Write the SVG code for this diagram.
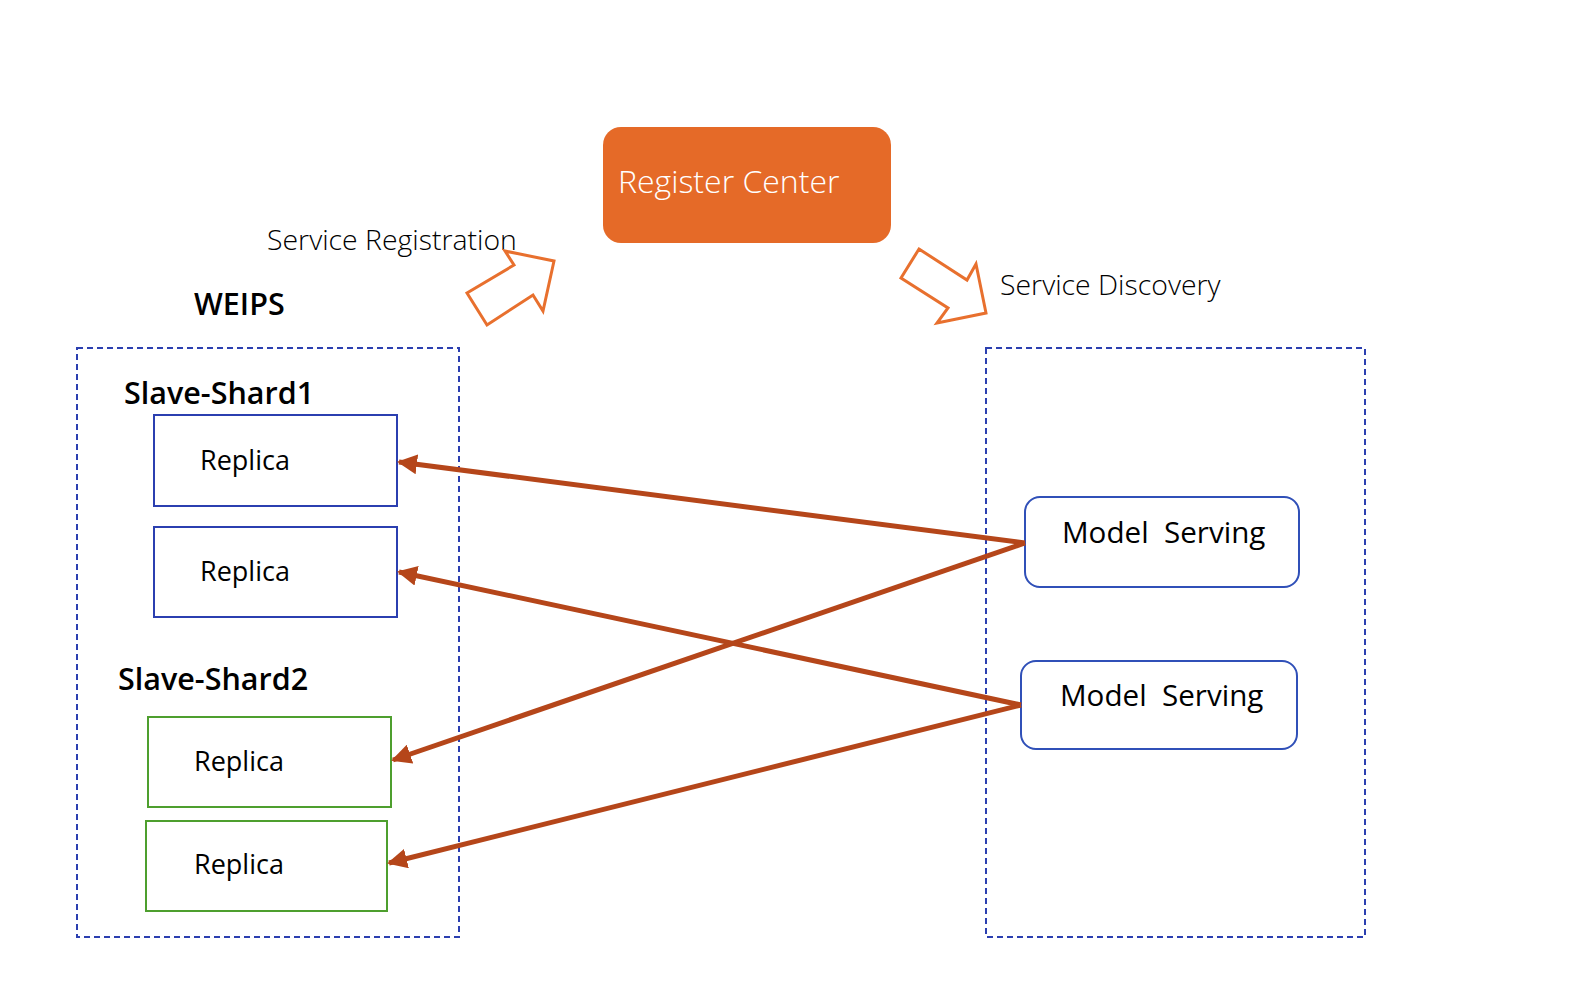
<svg xmlns="http://www.w3.org/2000/svg" width="1570" height="998" viewBox="0 0 1570 998">
<defs>
<style>
.t{font-family:"Open Sans","Noto Sans",sans-serif;fill:#000}
.lt{font-weight:300;font-size:28.4px}
.bd{font-weight:600;font-size:30.5px}
.rep{font-size:27px}
.ms-t{font-size:29.6px;font-weight:500}
.dash{fill:none;stroke:#2B3FB0;stroke-width:2;stroke-dasharray:6 4}
.blue{fill:#fff;stroke:#2B3FB0;stroke-width:2}
.green{fill:#fff;stroke:#4E9F2E;stroke-width:2}
.ms{fill:#fff;stroke:#3050B8;stroke-width:2}
.blk{fill:#fff;stroke:#E8702E;stroke-width:3;stroke-linejoin:miter}
.con{stroke:#B5461A;stroke-width:5;fill:none}
</style>
<marker id="ah" viewBox="0 0 10 10" refX="9" refY="5" markerWidth="4" markerHeight="4" orient="auto" markerUnits="strokeWidth">
<path d="M0,0 L10,5 L0,10 Z" fill="#B5461A"/>
</marker>
</defs>
<rect width="1570" height="998" fill="#fff"/>

<g id="register-center">
<rect x="603" y="127" width="288" height="116" rx="18" fill="#E56A28"/>
<text x="618" y="193" class="t" style="font-size:32px;font-weight:300;fill:#fff">Register Center</text>
</g>

<g id="service-registration">
<text x="267" y="250" class="t lt">Service Registration</text>
<polygon class="blk" points="505,251 554,261 543,311 533,295 487,325 467,293 514,265"/>
</g>

<g id="service-discovery">
<text x="1000" y="295" class="t lt">Service Discovery</text>
<polygon class="blk" points="919,249 967,280 976,264 986,313 937,323 948,308 901,278"/>
</g>

<g id="weips">
<text x="194" y="315" class="t bd">WEIPS</text>
<rect x="77" y="348" width="382" height="589" class="dash"/>
</g>

<g id="serving-cluster">
<rect x="986" y="348" width="379" height="589" class="dash"/>
</g>

<g id="slave-shard1">
<text x="124" y="404" class="t bd">Slave-Shard1</text>
</g>
<g id="replica1">
<rect x="154" y="415" width="243" height="91" class="blue"/>
<text x="200" y="470" class="t rep">Replica</text>
</g>
<g id="replica2">
<rect x="154" y="527" width="243" height="90" class="blue"/>
<text x="200" y="581" class="t rep">Replica</text>
</g>

<g id="slave-shard2">
<text x="118" y="690" class="t bd">Slave-Shard2</text>
</g>
<g id="replica3">
<rect x="148" y="717" width="243" height="90" class="green"/>
<text x="194" y="771" class="t rep">Replica</text>
</g>
<g id="replica4">
<rect x="146" y="821" width="241" height="90" class="green"/>
<text x="194" y="874" class="t rep">Replica</text>
</g>

<g id="model-serving1">
<rect x="1025" y="497" width="274" height="90" rx="15" class="ms"/>
<text x="1062" y="543" class="t ms-t" xml:space="preserve">Model  Serving</text>
</g>
<g id="model-serving2">
<rect x="1021" y="661" width="276" height="88" rx="15" class="ms"/>
<text x="1060" y="706" class="t ms-t" xml:space="preserve">Model  Serving</text>
</g>

<g id="connectors">
<line x1="1025" y1="543" x2="399" y2="462" class="con" marker-end="url(#ah)"/>
<line x1="1025" y1="543" x2="393" y2="760" class="con" marker-end="url(#ah)"/>
<line x1="1021" y1="705" x2="399" y2="572" class="con" marker-end="url(#ah)"/>
<line x1="1021" y1="705" x2="389" y2="863" class="con" marker-end="url(#ah)"/>
</g>
</svg>
